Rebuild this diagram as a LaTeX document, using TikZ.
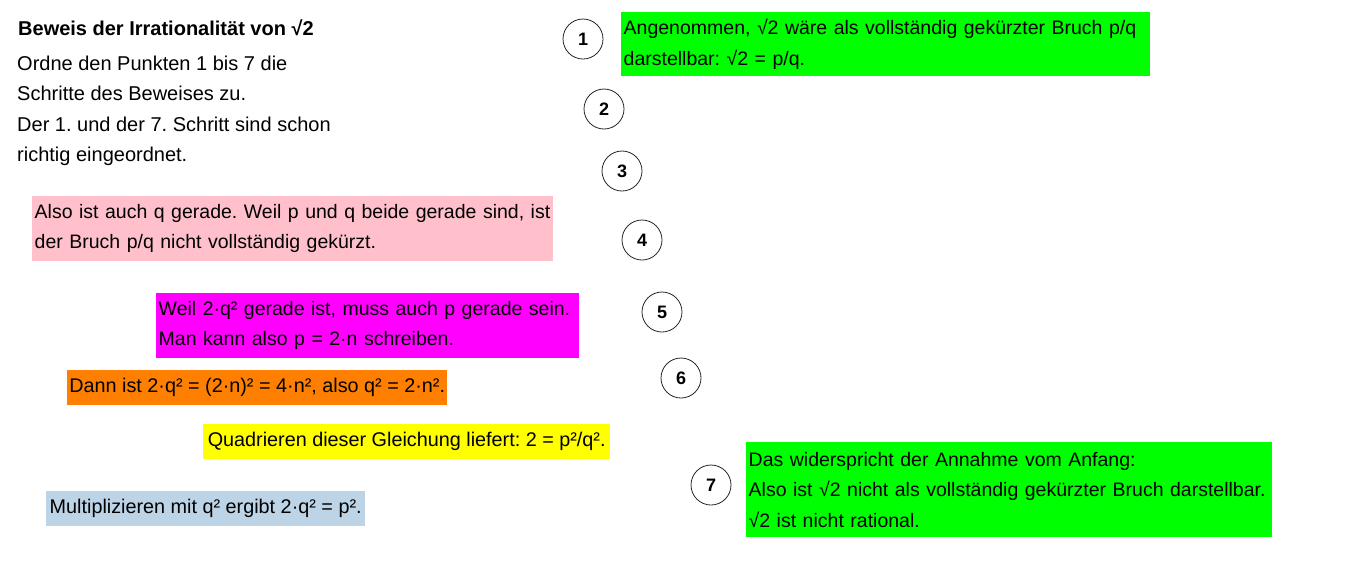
\documentclass[tikz,border=0pt]{standalone}
\usepackage{fontspec}
\setmainfont{Liberation Sans}
\usepackage{tikz}
\usetikzlibrary{shapes,positioning}
\frenchspacing
\definecolor{stepgreen}{RGB}{0, 255, 0}
\definecolor{steppink}{RGB}{255, 192, 203}
\definecolor{stepmagenta}{RGB}{255, 0, 255}
\definecolor{steporange}{RGB}{255, 128, 0}
\definecolor{stepyellow}{RGB}{255, 255, 0}
\definecolor{stepblue}{RGB}{189, 211, 230}
\tikzstyle{card} = [rectangle, anchor=north west, inner xsep=2.5pt, inner ysep=0pt, align=left, text=black, font=\fontsize{19.5}{30.5}\selectfont, execute at begin node={\hyphenpenalty=10000\relax}]
\tikzstyle{line} = [card, inner xsep=0pt, minimum height=35pt, font=\fontsize{19.8}{30.5}\selectfont]
\tikzstyle{num} = [circle, draw=black!85, line width=0.8pt, fill=white, text=black, text centered, inner sep=0pt, font=\bfseries\fontsize{18}{20}\selectfont, minimum size=40pt]
\tikzstyle{plain} = [inner sep=0pt, align=left, text=black, font=\fontsize{20}{30.5}\selectfont]

\begin{document}
\begin{tikzpicture}[x=1pt, y=-1pt]
\useasboundingbox (0,0) rectangle (1366,566);

% task =============================
\node[plain, anchor=base west, font=\bfseries\fontsize{20}{30.5}\selectfont] (title) at (18,35) {Beweis der Irrationalität von √2};
\node[plain, anchor=north west] (task) at (17,55.5) {Ordne den Punkten 1 bis 7 die\\Schritte des Beweises zu.\\Der 1. und der 7. Schritt sind schon\\richtig eingeordnet.};

% numbered places
\node[num] (n1) at (583,39) {1};
\node[num] (n2) at (604,109) {2};
\node[num] (n3) at (622,171) {3};
\node[num] (n4) at (642,240) {4};
\node[num] (n5) at (662,312) {5};
\node[num] (n6) at (681,378) {6};
\node[num] (n7) at (711,485) {7};

% fixed steps
\node[card, fill=stepgreen, text width=524pt, minimum height=64pt] (first) at (621,12) {Angenommen, √2 wäre als vollständig gekürzter Bruch p/q\\darstellbar: √2 = p/q.};
\node[card, fill=stepgreen, text width=521pt, minimum height=95pt] (last) at (746,442) {Das widerspricht der Annahme vom Anfang:\\Also ist √2 nicht als vollständig gekürzter Bruch darstellbar.\\√2 ist nicht rational.};

% steps to sort
\node[card, fill=steppink, text width=516pt, minimum height=65pt] (qeven) at (32,196) {Also ist auch q gerade. Weil p und q beide gerade sind, ist\\der Bruch p/q nicht vollständig gekürzt.};
\node[card, fill=stepmagenta, text width=418pt, minimum height=65pt] (peven) at (156,293) {Weil 2·q² gerade ist, muss auch p gerade sein.\\Man kann also p = 2·n schreiben.};
\node[line, fill=steporange, minimum width=380pt] (subst) at (67,370) {Dann ist 2·q² = (2·n)² = 4·n², also q² = 2·n².};
\node[line, fill=stepyellow, minimum width=407pt] (square) at (203,424) {Quadrieren dieser Gleichung liefert: 2 = p²/q².};
\node[line, fill=stepblue, minimum width=319pt] (mult) at (46,491) {Multiplizieren mit q² ergibt 2·q² = p².};

\end{tikzpicture}
\end{document}
